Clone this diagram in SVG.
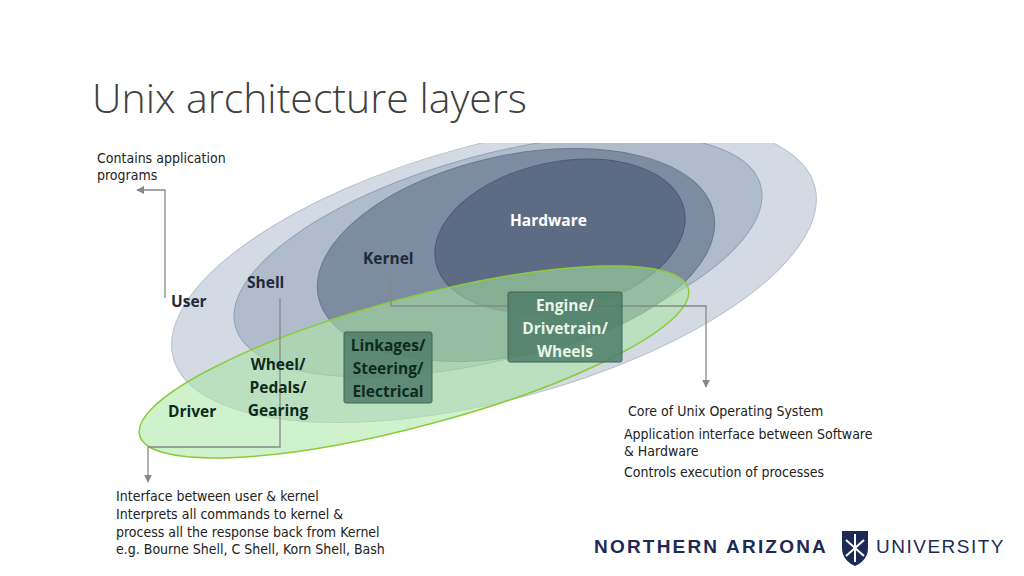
<svg xmlns="http://www.w3.org/2000/svg" width="1024" height="576" viewBox="0 0 1024 576">
<defs>
<style>
.t{font-family:"Open Sans","Liberation Sans",sans-serif;font-weight:bold;font-size:15.5px;}
.h{font-family:"DejaVu Sans Condensed","Liberation Sans Narrow",sans-serif;font-size:14px;fill:#222;}
.c{fill:none;stroke:#888;stroke-width:1.3;}
.box{fill:#4f7d68;fill-opacity:0.85;stroke:#3e6655;stroke-width:1;}
</style>
<marker id="a" viewBox="0 0 10 10" refX="9" refY="5" markerWidth="6" markerHeight="6" orient="auto"><path d="M0,0L10,5L0,10z" fill="#888"/></marker>
<clipPath id="cl"><rect x="0" y="143" width="1024" height="433"/></clipPath>
</defs>
<rect width="1024" height="576" fill="#fff"/>
<text x="92" y="113" font-family="Open Sans,Liberation Sans,sans-serif" font-size="41" fill="#404040" font-weight="300">Unix architecture layers</text>
<g clip-path="url(#cl)">
<g id="user"><ellipse cx="494" cy="272" rx="332" ry="128" transform="rotate(-15 494 272)" fill="#d3dae4" stroke="#b8c1ce"/></g>
<g id="shell"><ellipse cx="498" cy="256" rx="272" ry="102" transform="rotate(-15 498 256)" fill="#b0bccc" stroke="#95a2b4"/></g>
<g id="kernel"><ellipse cx="516" cy="255" rx="202" ry="100" transform="rotate(-12 516 255)" fill="#7e8ca2" stroke="#6a7890"/></g>
<g id="hardware"><ellipse cx="560" cy="236" rx="127" ry="74" transform="rotate(-12 560 236)" fill="#5e6b84" stroke="#4e5a70"/></g>
</g>
<g id="driver"><ellipse cx="414" cy="362" rx="284" ry="64" transform="rotate(-15 414 362)" fill="#a8e6a0" fill-opacity="0.55" stroke="#8ccc3c" stroke-width="1.5"/></g>
<g id="connectors">
<path class="c" d="M165,298V190H137" marker-end="url(#a)"/>
<path class="c" d="M280,298V447H148V482" marker-end="url(#a)"/>
<path class="c" d="M391,274V306H706V387" marker-end="url(#a)"/>
</g>
<text class="t" x="510" y="226" fill="#fff">Hardware</text>
<text class="t" x="363" y="264" fill="#1f2a38">Kernel</text>
<text class="t" x="247" y="288" fill="#1f2a38">Shell</text>
<text class="t" x="171" y="307" fill="#1f2a38">User</text>
<g id="linkages"><rect class="box" x="344" y="332" width="88" height="71" rx="2"/>
<text class="t" fill="#0d2a1c" text-anchor="middle"><tspan x="388" y="351">Linkages/</tspan><tspan x="388" y="374">Steering/</tspan><tspan x="388" y="397">Electrical</tspan></text></g>
<g id="engine"><rect class="box" x="508" y="292" width="114" height="70" rx="2"/>
<text class="t" fill="#e8f5e8" text-anchor="middle"><tspan x="565" y="311">Engine/</tspan><tspan x="565" y="334">Drivetrain/</tspan><tspan x="565" y="357">Wheels</tspan></text></g>
<g id="wheel"><text class="t" fill="#0d2a1c" text-anchor="middle"><tspan x="278" y="370">Wheel/</tspan><tspan x="278" y="393">Pedals/</tspan><tspan x="278" y="416">Gearing</tspan></text></g>
<text class="t" x="168" y="417" fill="#0d2a1c">Driver</text>
<text class="h"><tspan x="97" y="163">Contains application</tspan><tspan x="97" y="180">programs</tspan></text>
<text class="h"><tspan x="628" y="416">Core of Unix Operating System</tspan><tspan x="624" y="439">Application interface between Software</tspan><tspan x="624" y="456">&amp; Hardware</tspan><tspan x="624" y="477">Controls execution of processes</tspan></text>
<text class="h"><tspan x="116" y="501">Interface between user &amp; kernel</tspan><tspan x="116" y="519">Interprets all commands to kernel &amp;</tspan><tspan x="116" y="537">process all the response back from Kernel</tspan><tspan x="116" y="554">e.g. Bourne Shell, C Shell, Korn Shell, Bash</tspan></text>
<g id="logo">
<text x="594" y="553" font-family="Liberation Sans,sans-serif" font-weight="bold" font-size="19" fill="#1e2a56" letter-spacing="2.2">NORTHERN ARIZONA</text>
<path d="M842,531H868V548Q868,560 855,566Q842,560 842,548Z" fill="#1e2a56"/>
<path d="M855,534V562M846,540L864,556M864,540L846,556" stroke="#fff" stroke-width="2"/>
<text x="876" y="553" font-family="Liberation Sans,sans-serif" font-size="19" fill="#1e2a56" letter-spacing="1.5">UNIVERSITY</text>
</g>
</svg>
